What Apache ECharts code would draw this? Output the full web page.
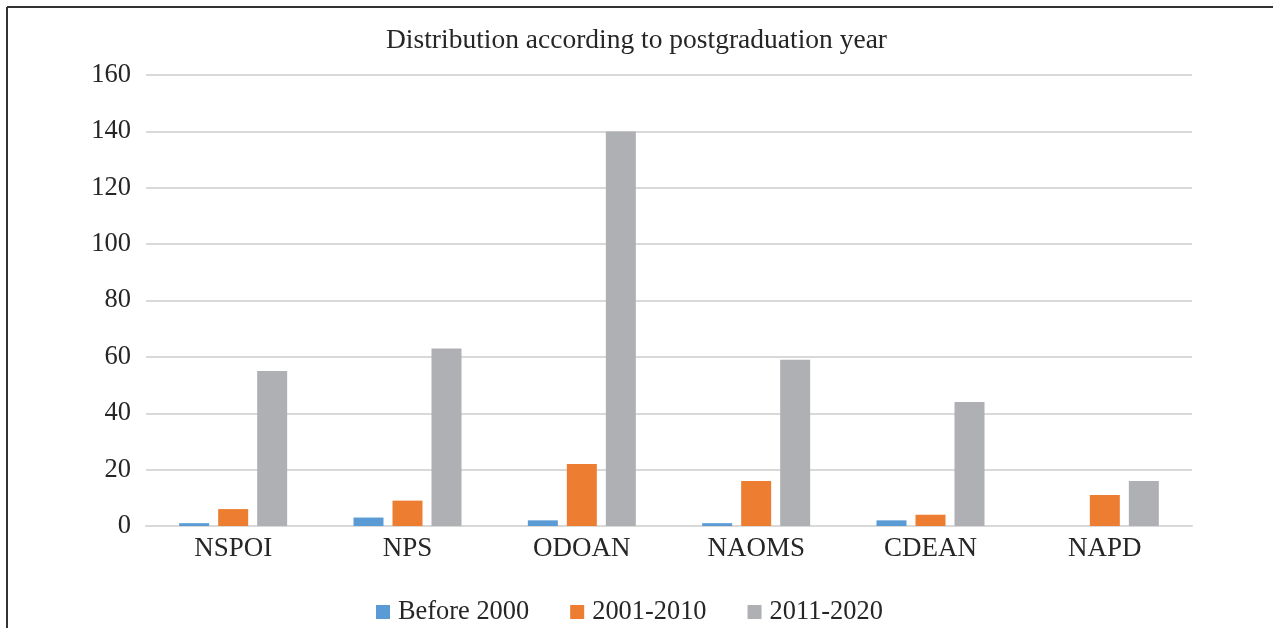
<!DOCTYPE html>
<html>
<head>
<meta charset="utf-8">
<script src="https://cdn.jsdelivr.net/npm/echarts@6/dist/echarts.min.js"></script>
<style>html,body{margin:0;padding:0;background:#fff}#c{width:1273px;height:628px}</style>
</head>
<body>
<div id="c"></div>
<script>
var categories = ['NSPOI', 'NPS', 'ODOAN', 'NAOMS', 'CDEAN', 'NAPD'];
var before2000 = [1, 3, 2, 1, 2, 0];
var y2001_2010 = [6, 9, 22, 16, 4, 11];
var y2011_2020 = [55, 63, 140, 59, 44, 16];
var seriesNames = ['Before 2000', '2001-2010', '2011-2020'];
var colors = ['#5B9BD5', '#ED7D31', '#AFB0B3'];
var font = 'Liberation Serif, Times New Roman, serif';

var chart = echarts.init(document.getElementById('c'));
chart.setOption({
  animation: false,
  color: colors,
  title: {
    text: 'Distribution according to postgraduation year',
    left: 'center', top: 22,
    textStyle: {fontFamily: font, fontSize: 27.5, fontWeight: 'normal', color: '#262626'}
  },
  legend: {
    top: 594, left: 371,
    itemWidth: 14, itemHeight: 14, itemGap: 41,
    icon: 'rect',
    textStyle: {fontFamily: font, fontSize: 26.4, color: '#262626', padding: [0, 0, 0, 3]},
    data: seriesNames
  },
  grid: {left: 146, right: 81, top: 75, bottom: 102, containLabel: false},
  xAxis: {
    type: 'category', data: categories,
    axisLine: {lineStyle: {color: '#D9D9D9', width: 2}},
    axisTick: {show: false},
    axisLabel: {fontFamily: font, fontSize: 27, color: '#262626', margin: 9}
  },
  yAxis: {
    type: 'value', min: 0, max: 160, interval: 20,
    axisLine: {show: false}, axisTick: {show: false},
    splitLine: {lineStyle: {color: '#D9D9D9', width: 2}},
    axisLabel: {fontFamily: font, fontSize: 26.5, color: '#262626', margin: 15}
  },
  graphic: [
    {type: 'line', shape: {x1: 7, y1: 7, x2: 1273, y2: 7}, style: {stroke: '#333', lineWidth: 2}},
    {type: 'line', shape: {x1: 7, y1: 7, x2: 7, y2: 628}, style: {stroke: '#333', lineWidth: 2}}
  ],
  series: [
    {name: seriesNames[0], type: 'bar', data: before2000, barWidth: 30, barGap: '30%'},
    {name: seriesNames[1], type: 'bar', data: y2001_2010, barWidth: 30, barGap: '30%'},
    {name: seriesNames[2], type: 'bar', data: y2011_2020, barWidth: 30, barGap: '30%'}
  ]
});
</script>
</body>
</html>
